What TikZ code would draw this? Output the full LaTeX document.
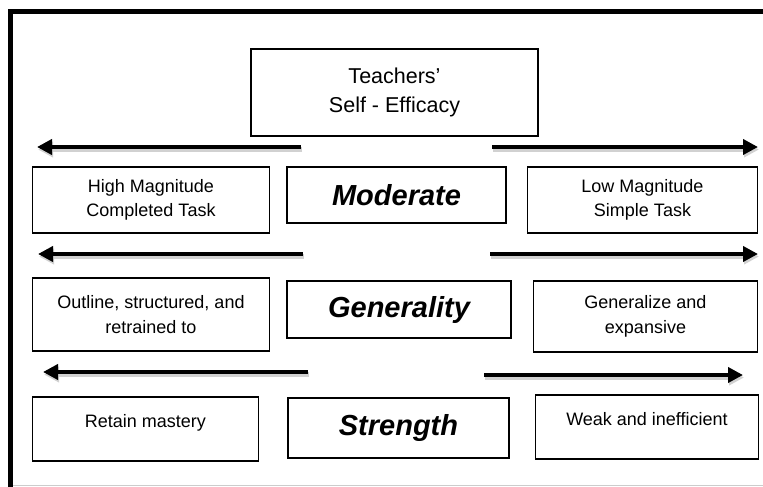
\documentclass[tikz,border=0pt]{standalone}
\usepackage{fontspec}
\setmainfont{Liberation Sans}
\usetikzlibrary{positioning,arrows.meta}

\tikzset{
  box/.style={draw, line width=1.5pt, inner sep=0pt, align=center,
    font=\fontsize{18}{24.5}\selectfont},
  keybox/.style={box, font=\fontsize{29}{34}\selectfont\bfseries\itshape},
  bigarrow/.style={line width=4.5pt, -{Triangle[length=15pt,width=15pt]},
    preaction={draw=black!18, line width=4.5pt,
      transform canvas={shift={(1pt,-2.5pt)}}}},
}

\begin{document}
\begin{tikzpicture}[x=1pt,y=-1pt]
  \useasboundingbox (0,0) rectangle (763,487);
  \draw[line width=5pt] (763,12) -- (10.8,12) -- (10.8,487);
  \draw[black!20, line width=1pt] (13.3,485.5) -- (763,485.5);

  \node[box, minimum width=287pt, minimum height=87pt,
    font=\fontsize{21.5}{28.5}\selectfont] (teach) at (394.5,92.5)
    {Teachers'\\Self - Efficacy};

  \node[keybox, minimum width=219pt, minimum height=56pt] (mod) at (396.5,195) {Moderate};
  \node[box, minimum width=237pt, minimum height=66pt,
    left=16pt of mod.north west, anchor=north east] (hm) {High Magnitude\\Completed Task};
  \node[box, minimum width=230pt, minimum height=66pt,
    right=20pt of mod.north east, anchor=north west] (lm) {Low Magnitude\\Simple Task};

  \node[keybox, minimum width=224pt, minimum height=57pt] (gen) at (399,309.5) {Generality};
  \node[box, minimum width=237pt, minimum height=73pt, yshift=3pt,
    left=16pt of gen.north west, anchor=north east] (outl) {Outline, structured, and\\retrained to};
  \node[box, minimum width=224pt, minimum height=71pt,
    right=21pt of gen.north east, anchor=north west] (gex) {Generalize and\\expansive};

  \node[keybox, minimum width=221pt, minimum height=60pt] (str) at (398.5,428) {Strength};
  \node[box, minimum width=226pt, minimum height=64pt, yshift=1pt,
    left=28pt of str.north west, anchor=north east] (ret) {Retain mastery\\[-8pt]\mbox{}};
  \node[box, minimum width=223pt, minimum height=64pt, yshift=3pt,
    right=25pt of str.north east, anchor=north west] (weak) {Weak and inefficient\\[-8pt]\mbox{}};

  % arrow ends
  \coordinate (a1) at (301,147);
  \coordinate (a2) at (37,147);
  \coordinate (a3) at (492,147);
  \coordinate (a4) at (758,147);
  \coordinate (b1) at (303,254);
  \coordinate (b2) at (38,254);
  \coordinate (b3) at (490,254);
  \coordinate (b4) at (758,254);
  \coordinate (c1) at (308,372);
  \coordinate (c2) at (43,372);
  \coordinate (c3) at (484,375);
  \coordinate (c4) at (743,375);
  \draw[bigarrow] (a1) -- (a2);
  \draw[bigarrow] (a3) -- (a4);
  \draw[bigarrow] (b1) -- (b2);
  \draw[bigarrow] (b3) -- (b4);
  \draw[bigarrow] (c1) -- (c2);
  \draw[bigarrow] (c3) -- (c4);
\end{tikzpicture}
\end{document}
